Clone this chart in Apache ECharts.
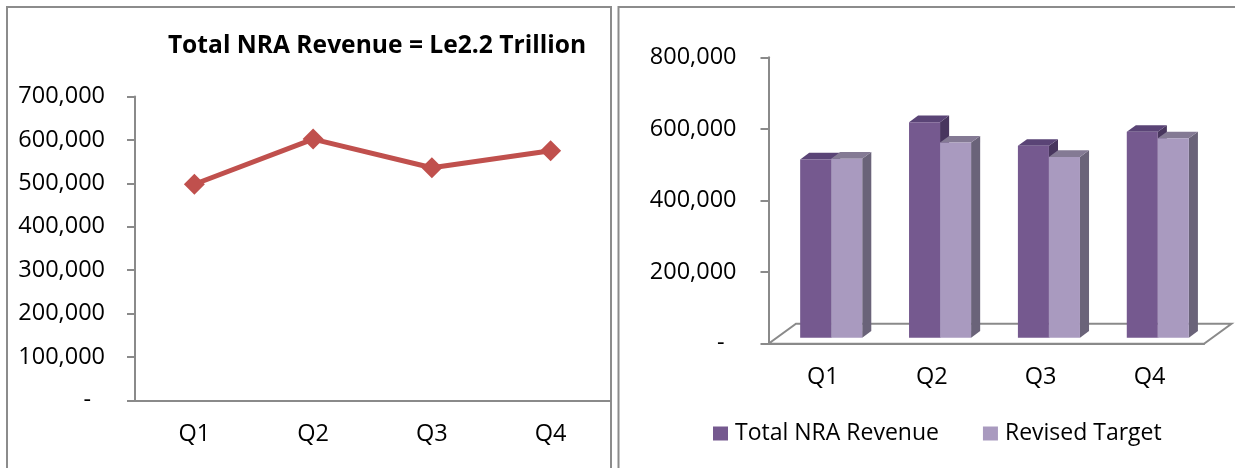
<!DOCTYPE html>
<html><head><meta charset="utf-8">
<script src="https://cdn.jsdelivr.net/npm/echarts@6/dist/echarts.min.js"></script>
<style>html,body{margin:0;padding:0;background:#fff}#c{width:1235px;height:468px}</style>
</head><body><div id="c"></div>
<script>
// ---- data ----
const quarters = ['Q1', 'Q2', 'Q3', 'Q4'];
const revenue = [498000, 602000, 536000, 575000];
const revisedTarget = [500000, 545000, 505000, 557000];
const titleText = 'Total NRA Revenue = Le2.2 Trillion';
const barSeriesNames = ['Total NRA Revenue', 'Revised Target'];

// ---- styling ----
const FONT = "'Open Sans', 'Liberation Sans', sans-serif";
const AX = '#8a8a8a';
const DEPTH = [27.5, -20];      // floor depth vector (oblique 3D)
const FRONT = 0.3, BACK = 0.63; // bar depth fractions
const BAR_FRAC = 0.285;
const DARK = {front: '#75598F', top: '#5A4476', side: '#48365E'};
const LIGHT = {front: '#A99ABF', top: '#847A94', side: '#6A6379'};

function fmt(v) { return v === 0 ? '{d|-}' : v.toLocaleString('en-US'); }

function bar3d(which, colors) {
  return function (params, api) {
    const idx = api.value(0), val = api.value(1);
    const top = api.coord([idx, val]);
    const base = api.coord([idx, 0]);
    const w = api.size([1, 0])[0] * BAR_FRAC;
    const fx = DEPTH[0] * FRONT, fy = DEPTH[1] * FRONT;
    const bx = DEPTH[0] * (BACK - FRONT), by = DEPTH[1] * (BACK - FRONT);
    const x0 = top[0] + (which === 0 ? -w : 0) + fx;
    const x1 = x0 + w;
    const yT = top[1] + fy, yB = base[1] + fy;
    return {type: 'group', children: [
      {type: 'polygon', shape: {points: [[x1, yB], [x1 + bx, yB + by], [x1 + bx, yT + by], [x1, yT]]}, style: {fill: colors.side}},
      {type: 'polygon', shape: {points: [[x0, yT], [x1, yT], [x1 + bx, yT + by], [x0 + bx, yT + by]]}, style: {fill: colors.top}},
      {type: 'rect', shape: {x: x0, y: yT, width: w, height: yB - yT}, style: {fill: colors.front}}
    ]};
  };
}

function floor(params, api) {
  const cs = params.coordSys;
  const x0 = cs.x, x1 = cs.x + cs.width, y = cs.y + cs.height;
  return {type: 'polygon', shape: {points: [[x0, y], [x1, y], [x1 + DEPTH[0], y + DEPTH[1]], [x0 + DEPTH[0], y + DEPTH[1]]]},
    style: {fill: '#fff', stroke: AX, lineWidth: 2}};
}

const axisLabel = (margin, pad) => ({
  fontSize: 23.5, fontFamily: FONT, color: '#000', margin: margin,
  formatter: fmt, rich: {d: {fontSize: 23.5, fontFamily: FONT, color: '#000', padding: [0, pad, 0, 0]}}
});

const chart = echarts.init(document.getElementById('c'), null, {renderer: 'canvas'});
chart.setOption({
  animation: false,
  backgroundColor: '#fff',
  title: {
    text: titleText, left: 372, top: 28, textAlign: 'center',
    textStyle: {fontSize: 24.6, fontWeight: 'bold', fontFamily: FONT, color: '#000'}
  },
  legend: {
    data: barSeriesNames, left: 708, top: 417, icon: 'rect', itemWidth: 15, itemHeight: 14, itemGap: 44,
    textStyle: {fontSize: 23, fontFamily: FONT, color: '#000', padding: [0, 0, 0, 2]}
  },
  graphic: [
    {type: 'polyline', shape: {points: [[7, 468], [7, 7], [611, 7], [611, 468]]}, style: {stroke: '#8c8c8c', lineWidth: 2, fill: null}, silent: true},
    {type: 'polyline', shape: {points: [[618.5, 468], [618.5, 7], [1235, 7]]}, style: {stroke: '#8c8c8c', lineWidth: 2, fill: null}, silent: true}
  ],
  grid: [
    {left: 135, top: 96.5, width: 475, height: 304},
    {left: 768.5, top: 57.3, width: 435.5, height: 286.4}
  ],
  xAxis: [
    {type: 'category', gridIndex: 0, data: quarters, boundaryGap: true,
     axisLine: {lineStyle: {color: AX, width: 2}}, axisTick: {length: 9, lineStyle: {color: AX, width: 2}},
     axisLabel: {fontSize: 23.5, fontFamily: FONT, color: '#000', margin: 22}},
    {type: 'category', gridIndex: 1, data: quarters, boundaryGap: true,
     axisLine: {lineStyle: {color: AX, width: 2}}, axisTick: {length: 9, lineStyle: {color: AX, width: 2}},
     axisLabel: {fontSize: 23.5, fontFamily: FONT, color: '#000', margin: 22}}
  ],
  yAxis: [
    {type: 'value', gridIndex: 0, min: 0, max: 700000, interval: 100000,
     axisLine: {show: true, lineStyle: {color: AX, width: 2}}, axisTick: {show: true, length: 8, lineStyle: {color: AX, width: 2}},
     splitLine: {show: false}, axisLabel: axisLabel(30, 14)},
    {type: 'value', gridIndex: 1, min: 0, max: 800000, interval: 200000,
     axisLine: {show: true, lineStyle: {color: AX, width: 2}}, axisTick: {show: true, length: 8, lineStyle: {color: AX, width: 2}},
     splitLine: {show: false}, axisLabel: axisLabel(32, 12)}
  ],
  series: [
    {name: 'NRA Revenue by Quarter', type: 'line', xAxisIndex: 0, yAxisIndex: 0, data: revenue,
     symbol: 'diamond', symbolSize: 21, lineStyle: {color: '#C0504D', width: 5},
     itemStyle: {color: '#C0504D'}, z: 3},
    {name: 'floor', type: 'custom', xAxisIndex: 1, yAxisIndex: 1, data: [[0, 0]], renderItem: floor, silent: true, z: 1},
    {name: barSeriesNames[0], type: 'custom', xAxisIndex: 1, yAxisIndex: 1,
     data: revenue.map((v, i) => [i, v]), renderItem: bar3d(0, DARK), itemStyle: {color: DARK.front}, z: 2},
    {name: barSeriesNames[1], type: 'custom', xAxisIndex: 1, yAxisIndex: 1,
     data: revisedTarget.map((v, i) => [i, v]), renderItem: bar3d(1, LIGHT), itemStyle: {color: LIGHT.front}, z: 2}
  ]
});
</script>
</body></html>
